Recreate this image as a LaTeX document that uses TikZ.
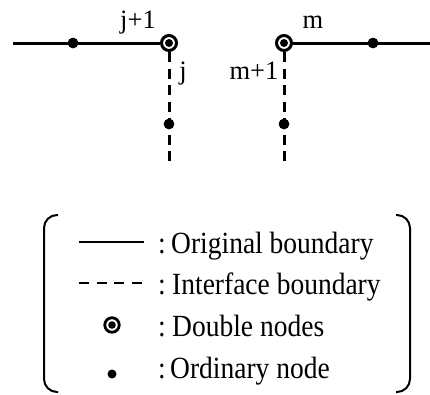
\documentclass[tikz,border=0pt]{standalone}
\usepackage{fontspec}
\setmainfont{Liberation Serif}
\newcommand{\vstretch}[1]{\scalebox{1}[1.12]{#1}}
\begin{document}
\begin{tikzpicture}[x=1pt,y=-1pt,
  solidline/.style={line width=3pt},
  dashline/.style={line width=3pt, dash pattern=on 10pt off 6.5pt},
  legsolid/.style={line width=2.6pt},
  legdash/.style={line width=2.6pt, dash pattern=on 10pt off 7.7pt},
  bracket/.style={line width=2pt, rounded corners=13pt},
  ordnode/.style={circle, fill=black, inner sep=0pt, minimum size=10.5pt},
  legord/.style={circle, fill=black, inner sep=0pt, minimum size=9pt},
  dblnode/.style={circle, draw=black, line width=3pt, fill=white, inner sep=0pt, minimum size=15pt,
    path picture={\fill[black] (path picture bounding box.center) circle (4pt);}},
  lbl/.style={font=\fontsize{26.5}{28}\selectfont, inner sep=0pt},
  legtext/.style={font=\fontsize{27.5}{30}\selectfont, inner sep=0pt},
]
\useasboundingbox (0,0) rectangle (430,394);
% ---------- upper diagram ----------
\coordinate (L0) at (13,43);
\coordinate (R0) at (430,43);
\coordinate (e1) at (169,165);
\coordinate (e2) at (284,165);
\node[ordnode] (o1) at (73,43) {};
\node[ordnode] (o2) at (373,43) {};
\node[ordnode] (o3) at (169,124) {};
\node[ordnode] (o4) at (284,124) {};
\node[dblnode] (d1) at (169,43) {};
\node[dblnode] (d2) at (284,43) {};
\draw[solidline] (L0) -- (d1);
\draw[solidline] (d2) -- (R0);
\draw[dashline] (d1.south) -- (e1);
\draw[dashline] (d2.south) -- (e2);
\node[ordnode] at (o1) {};
\node[ordnode] at (o2) {};
\node[ordnode] at (o3) {};
\node[ordnode] at (o4) {};
\node[lbl, anchor=base] (lj1) at (138,28) {j+1};
\node[lbl, anchor=base] (lm) at (313,28) {m};
\node[lbl, anchor=base] (lj) at (183,79) {j};
\node[lbl, anchor=base] (lm1) at (254,79) {m+1};
% ---------- legend ----------
\coordinate (bl1) at (58,215);
\coordinate (bl2) at (44,215);
\coordinate (bl3) at (44,392);
\coordinate (bl4) at (58,392);
\coordinate (br1) at (396,215);
\coordinate (br2) at (410,215);
\coordinate (br3) at (410,392);
\coordinate (br4) at (396,392);
\draw[bracket] (bl1) -- (bl2) -- (bl3) -- (bl4);
\draw[bracket] (br1) -- (br2) -- (br3) -- (br4);
\coordinate (s1a) at (79,242);
\coordinate (s1b) at (144,242);
\coordinate (s2a) at (79,283);
\coordinate (s2b) at (144,283);
\draw[legsolid] (s1a) -- (s1b);
\draw[legdash] (s2a) -- (s2b);
\node[dblnode, minimum size=14.5pt, line width=2.8pt,
  path picture={\fill[black] (path picture bounding box.center) circle (3.8pt);}] (sd) at (112,325) {};
\node[legord] (so) at (112,374) {};
\node[legtext, anchor=base] (c1) at (162,253) {\vstretch{:}};
\node[legtext, anchor=base] (c2) at (162,294) {\vstretch{:}};
\node[legtext, anchor=base] (c3) at (162,336) {\vstretch{:}};
\node[legtext, anchor=base] (c4) at (162,378) {\vstretch{:}};
\node[legtext, anchor=base west] (t1) at (171,253) {\vstretch{Original boundary}};
\node[legtext, anchor=base west] (t2) at (172,294) {\vstretch{Interface boundary}};
\node[legtext, anchor=base west] (t3) at (172,336) {\vstretch{Double nodes}};
\node[legtext, anchor=base west] (t4) at (170,378) {\vstretch{Ordinary node}};
\end{tikzpicture}
\end{document}
